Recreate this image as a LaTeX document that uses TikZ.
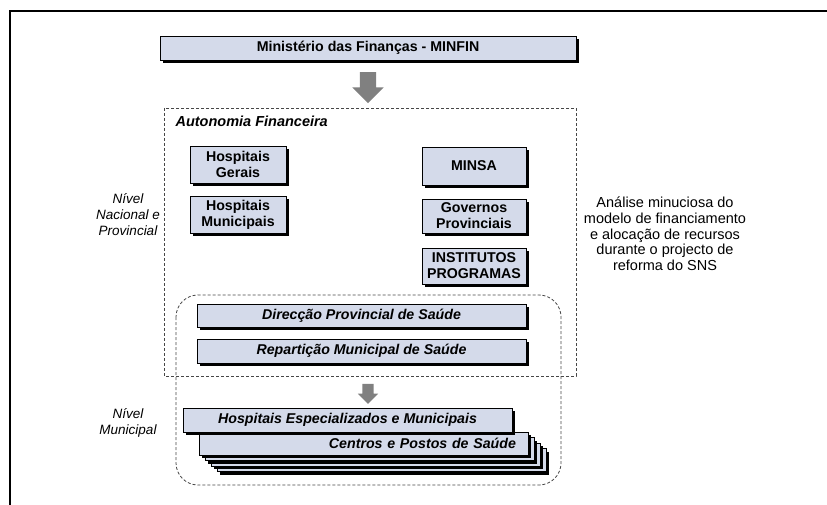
\documentclass[tikz,border=0pt]{standalone}
\usepackage{fontspec}
\setmainfont{Liberation Sans}
\usetikzlibrary{shadows,shapes.arrows}
\definecolor{boxblue}{RGB}{212,218,234}
\definecolor{arrowgray}{RGB}{128,128,128}
\definecolor{dashgray}{RGB}{70,70,70}

\begin{document}
\begin{tikzpicture}[x=1pt, y=-1pt]
  \tikzset{BoxStyle/.style = {
  draw = black,
  fill = boxblue,
  line width = 0.7pt,
  inner sep = 0pt,
  align = center,
  font = \fontsize{14.2}{16}\selectfont\bfseries,
  drop shadow = {shadow xshift=3pt, shadow yshift=-3pt, fill=black, opacity=1}},
  ItBoxStyle/.style = {BoxStyle,
  font = \fontsize{14.2}{16}\selectfont\bfseries\itshape},
  ArrowStyle/.style = {
  single arrow,
  fill = arrowgray,
  rotate = -90},
  DashStyle/.style = {
  draw = dashgray,
  line width = 0.8pt,
  dash pattern = on 3pt off 2pt},
  LevelStyle/.style = {
  align = center,
  font = \fontsize{13.5}{16}\selectfont\itshape}}
  \useasboundingbox (0,0) rectangle (827,505);
  \draw[line width=1.8pt] (10,505) -- (10,11) -- (827,11);
  % top
  \node[BoxStyle, minimum width=416pt, minimum height=24pt] (minfin) at (368,48) {Ministério das Finanças - MINFIN};
  \node[ArrowStyle, inner sep=8pt, minimum height=31pt,
        single arrow head extend=7.5pt] (down1) at (368,83.5) {};
  % nivel nacional e provincial
  \draw[DashStyle] (164,108) rectangle (576,376);
  \draw[DashStyle, rounded corners=22pt] (176,295) rectangle (561,485);
  \node[anchor=west, font=\fontsize{14.5}{16}\selectfont\bfseries\itshape] (autfin) at (172,121) {Autonomia Financeira};
  \node[BoxStyle, minimum width=96pt, minimum height=37pt] (hgerais) at (238,164.5) {Hospitais\\Gerais};
  \node[BoxStyle, minimum width=96pt, minimum height=37pt] (hmunic) at (238,214.5) {Hospitais\\Municipais};
  \node[BoxStyle, minimum width=104pt, minimum height=38pt] (minsa) at (474,166) {MINSA};
  \node[BoxStyle, minimum width=104pt, minimum height=34pt] (govprov) at (474,216) {Governos\\Provinciais};
  \node[BoxStyle, minimum width=104pt, minimum height=36pt] (instprog) at (474,266) {INSTITUTOS\\PROGRAMAS};
  \node[ItBoxStyle, minimum width=329pt, minimum height=23pt] (dps) at (361.5,315.5) {Direcção Provincial de Saúde};
  \node[ItBoxStyle, minimum width=329pt, minimum height=24pt] (rms) at (361.5,351) {Repartição Municipal de Saúde};
  \node[ArrowStyle, inner sep=5.5pt, minimum height=20pt,
        single arrow head extend=4.5pt] (down2) at (368,391) {};
  % nivel municipal
  \foreach \k in {3,2,1}
    \node[BoxStyle, minimum width=329pt, minimum height=23pt] (cps\k) at ({363.5+6*\k},{443.5+5.5*\k}) {};
  \node[ItBoxStyle, minimum width=329pt, minimum height=23pt, text width=305pt, align=right] (cps) at (363.5,443.5) {Centros e Postos de Saúde};
  \node[ItBoxStyle, minimum width=329pt, minimum height=24pt] (hem) at (347.5,420) {Hospitais Especializados e Municipais};
  % labels
  \node[LevelStyle] (lvlnac) at (128,215) {Nível\\Nacional e\\Provincial};
  \node[LevelStyle] (lvlmun) at (128,423) {Nível\\Municipal};
  \node[align=center, font=\fontsize{14.5}{15.7}\selectfont] (analise) at (665,234) {Análise minuciosa do\\modelo de financiamento\\e alocação de recursos\\durante o projecto de\\reforma do SNS};
\end{tikzpicture}
\end{document}
